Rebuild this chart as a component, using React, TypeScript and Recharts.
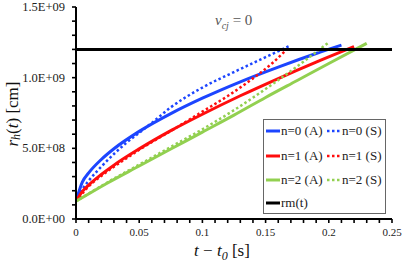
import { LineChart, Line, XAxis, YAxis, Legend, Customized } from 'recharts';

// radius of the head r_h (cm) against t - t0 (s)
const tA0 = [0, 0.005, 0.01, 0.02, 0.03, 0.05, 0.075, 0.1, 0.13, 0.16, 0.19, 0.21];
const rA0 = [1.25e8, 2.61e8, 3.26e8, 4.21e8, 4.97e8, 6.2e8, 7.46e8, 8.55e8, 9.71e8, 10.75e8, 11.71e8, 12.3e8];

const tS0 = [0, 0.005, 0.01, 0.02, 0.03, 0.04, 0.05, 0.06, 0.075, 0.1, 0.125, 0.15, 0.169];
const rS0 = [1.25e8, 2.1e8, 2.7e8, 3.7e8, 4.6e8, 5.4e8, 6.1e8, 6.8e8, 7.9e8, 9.3e8, 10.4e8, 11.45e8, 12.25e8];

const tA1 = [0, 0.005, 0.01, 0.02, 0.03, 0.05, 0.075, 0.1, 0.13, 0.16, 0.19, 0.22];
const rA1 = [1.25e8, 1.94e8, 2.4e8, 3.15e8, 3.81e8, 4.96e8, 6.25e8, 7.41e8, 8.72e8, 9.94e8, 11.1e8, 12.2e8];

const tS1 = [0, 0.01, 0.02, 0.03, 0.04, 0.05, 0.063, 0.08, 0.1, 0.12, 0.14, 0.155, 0.165];
const rS1 = [1.25e8, 2.3e8, 3.05e8, 3.7e8, 4.3e8, 4.9e8, 5.6e8, 6.5e8, 7.6e8, 8.7e8, 9.95e8, 11.0e8, 11.85e8];

const tA2 = [0, 0.025, 0.05, 0.075, 0.1, 0.125, 0.15, 0.175, 0.2, 0.23];
const rA2 = [1.25e8, 2.55e8, 3.75e8, 4.95e8, 6.15e8, 7.35e8, 8.6e8, 9.8e8, 11.0e8, 12.43e8];

const tS2 = [0, 0.025, 0.05, 0.075, 0.1, 0.125, 0.15, 0.175, 0.199];
const rS2 = [1.25e8, 2.6e8, 3.85e8, 5.1e8, 6.35e8, 7.7e8, 9.2e8, 10.8e8, 12.43e8];

const tRm = [0, 0.25];
const rRm = [1.2e9, 1.2e9];

const xTickLabels = ['0', '0.05', '0.1', '0.15', '0.2', '0.25'];
const yTickLabels = ['0.0E+00', '5.0E+08', '1.0E+09', '1.5E+09'];

const zip = (ts: number[], rs: number[]) => ts.map((t, i) => ({ t, r: rs[i] }));

const series = [
  { key: 'A0', name: 'n=0 (A)', color: '#1c45ff', dotted: false, data: zip(tA0, rA0) },
  { key: 'S0', name: 'n=0 (S)', color: '#1c45ff', dotted: true, data: zip(tS0, rS0) },
  { key: 'A1', name: 'n=1 (A)', color: '#ff0d0d', dotted: false, data: zip(tA1, rA1) },
  { key: 'S1', name: 'n=1 (S)', color: '#ff0d0d', dotted: true, data: zip(tS1, rS1) },
  { key: 'A2', name: 'n=2 (A)', color: '#92d050', dotted: false, data: zip(tA2, rA2) },
  { key: 'S2', name: 'n=2 (S)', color: '#92d050', dotted: true, data: zip(tS2, rS2) },
];
const rmData = zip(tRm, rRm);

const xTicks = Array.from({ length: 26 }, (_, i) => i / 100);
const yTicks = Array.from({ length: 16 }, (_, i) => i * 1e8);

const SERIF = { fontFamily: 'Liberation Serif, serif' };

const XTick = ({ x, y, payload }: any) => {
  const k = payload.value * 20;
  const major = Math.abs(k - Math.round(k)) < 1e-6;
  return (
    <g>
      <line x1={x} y1={y} x2={x} y2={y + 4} stroke="#000" strokeWidth={1.6} />
      {major && (
        <text x={x} y={y + 17} textAnchor="middle" style={{ ...SERIF, fontSize: 11 }} fill="#222">
          {xTickLabels[Math.round(k)]}
        </text>
      )}
    </g>
  );
};

const YTick = ({ x, y, payload }: any) => {
  const k = payload.value / 5e8;
  const major = Math.abs(k - Math.round(k)) < 1e-6;
  return (
    <g>
      <line x1={x - 4} y1={y} x2={x} y2={y} stroke="#000" strokeWidth={1.6} />
      {major && (
        <text x={x - 11} y={y} textAnchor="end" dominantBaseline="central" style={{ ...SERIF, fontSize: 12.5 }} fill="#222">
          {yTickLabels[Math.round(k)]}
        </text>
      )}
    </g>
  );
};

const Sample = ({ color, dotted }: { color: string; dotted: boolean }) => (
  <svg width={14} height={6} style={{ display: 'block' }}>
    <line x1={0} y1={3} x2={14} y2={3} stroke={color} strokeWidth={dotted ? 2.5 : 3}
      strokeDasharray={dotted ? '2.5 2.5' : undefined} />
  </svg>
);

const LegendBox = () => {
  const rows = [0, 1, 2].map((n) => [series[2 * n], series[2 * n + 1]]);
  const rowY = [11, 36, 60, 83];
  return (
    <div style={{ position: 'relative', width: 123, height: 95, boxSizing: 'border-box', border: '1px solid #666',
      background: '#fff', ...SERIF, fontSize: 13, color: '#222' }}>
      {rows.map((pair, i) =>
        pair.map((s, j) => (
          <div key={s.key} style={{ position: 'absolute', left: 2, top: rowY[i] - 9, height: 18,
            marginLeft: j === 0 ? 0 : 61, display: 'flex', alignItems: 'center', whiteSpace: 'nowrap' }}>
            <Sample color={s.color} dotted={s.dotted} />
            <span style={{ marginLeft: 1 }}>{s.name}</span>
          </div>
        ))
      )}
      <div style={{ position: 'absolute', left: 2, top: rowY[3] - 9, height: 18, display: 'flex', alignItems: 'center' }}>
        <Sample color="#000" dotted={false} />
        <span style={{ marginLeft: 1 }}>rm(t)</span>
      </div>
    </div>
  );
};

const Labels = () => (
  <g fill="#111">
    <text x={215} y={25} style={{ ...SERIF, fontSize: 15 }} fill="#555">
      <tspan fontStyle="italic">v</tspan>
      <tspan fontStyle="italic" fontSize={10} dy={4}>cj</tspan>
      <tspan dy={-4}> = 0</tspan>
    </text>
    <text x={222} y={256} style={{ ...SERIF, fontSize: 17 }} textAnchor="middle">
      <tspan fontStyle="italic">t</tspan>
      <tspan> − </tspan>
      <tspan fontStyle="italic">t</tspan>
      <tspan fontStyle="italic" fontSize={12} dy={4}>0</tspan>
      <tspan dy={-4}> [s]</tspan>
    </text>
    <text x={12} y={114} style={{ ...SERIF, fontSize: 17 }} textAnchor="middle" dominantBaseline="central"
      transform="rotate(-90 12 114)">
      <tspan fontStyle="italic">r</tspan>
      <tspan fontStyle="italic" fontSize={12} dy={4}>h</tspan>
      <tspan dy={-4}>(</tspan>
      <tspan fontStyle="italic">t</tspan>
      <tspan>) [cm]</tspan>
    </text>
  </g>
);

export default function App() {
  return (
    <div style={{ position: 'fixed', left: 0, top: 0, background: '#fff' }}>
      <LineChart width={407} height={274} margin={{ top: 7, right: 15, left: 0, bottom: 0 }}>
        <XAxis dataKey="t" type="number" domain={[0, 0.25]} ticks={xTicks} interval={0} tickLine={false}
          tickSize={0} tickMargin={0} tick={<XTick />} height={55} allowDataOverflow
          axisLine={{ stroke: '#000', strokeWidth: 2 }} />
        <YAxis dataKey="r" type="number" domain={[0, 1.5e9]} ticks={yTicks} interval={0} tickLine={false}
          tickSize={0} tickMargin={0} tick={<YTick />} width={76} allowDataOverflow
          axisLine={{ stroke: '#000', strokeWidth: 2 }} />
        <XAxis xAxisId="top" orientation="top" type="number" domain={[0, 0.25]} height={0} tick={false}
          tickLine={false} axisLine={{ stroke: '#333', strokeWidth: 1 }} />
        <YAxis yAxisId="right" orientation="right" type="number" domain={[0, 1.5e9]} width={0} tick={false}
          tickLine={false} axisLine={{ stroke: '#333', strokeWidth: 1 }} />
        {series.map((s) => (
          <Line key={s.key} data={s.data} dataKey="r" name={s.name} stroke={s.color}
            strokeWidth={s.dotted ? 2.5 : 3} strokeDasharray={s.dotted ? '2.5 2.5' : undefined}
            dot={false} type="monotone" isAnimationActive={false} />
        ))}
        <Line data={rmData} dataKey="r" name="rm(t)" stroke="#000" strokeWidth={3} dot={false}
          isAnimationActive={false} />
        <Legend layout="horizontal" verticalAlign="middle" align="center" content={<LegendBox />}
          wrapperStyle={{ position: 'absolute', left: 263, top: 119, width: 123, height: 95 }} />
        <Customized component={<Labels />} />
      </LineChart>
    </div>
  );
}
